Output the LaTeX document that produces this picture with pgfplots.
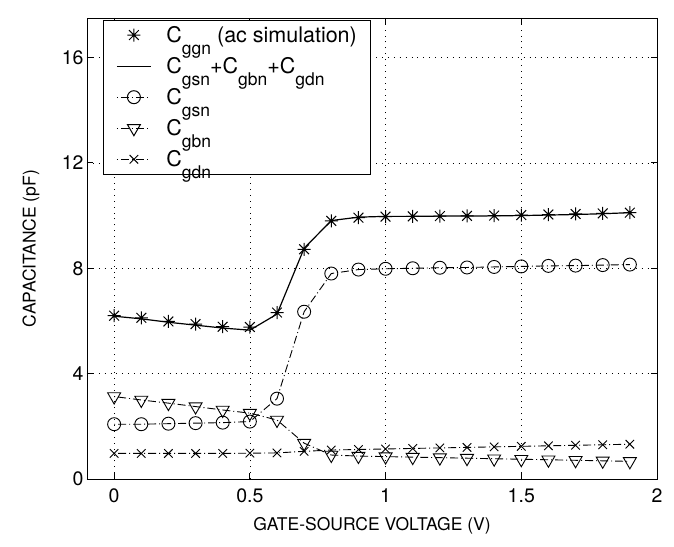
\documentclass[border=0pt]{standalone}
\usepackage{fontspec}
\setmainfont{TeX Gyre Heros}
\usepackage{pgfplots}
\pgfplotsset{compat=1.18}
\pgfdeclareplotmark{mstar}{%
  \pgfpathmoveto{\pgfqpoint{0pt}{\pgfplotmarksize}}\pgfpathlineto{\pgfqpoint{0pt}{-\pgfplotmarksize}}%
  \pgfpathmoveto{\pgfqpoint{\pgfplotmarksize}{0pt}}\pgfpathlineto{\pgfqpoint{-\pgfplotmarksize}{0pt}}%
  \pgfpathmoveto{\pgfqpoint{0.75\pgfplotmarksize}{0.75\pgfplotmarksize}}\pgfpathlineto{\pgfqpoint{-0.75\pgfplotmarksize}{-0.75\pgfplotmarksize}}%
  \pgfpathmoveto{\pgfqpoint{0.75\pgfplotmarksize}{-0.75\pgfplotmarksize}}\pgfpathlineto{\pgfqpoint{-0.75\pgfplotmarksize}{0.75\pgfplotmarksize}}%
  \pgfusepathqstroke}
\newcommand{\sub}[1]{\raisebox{-0.55em}{\fontsize{17.5}{19}\selectfont #1}}
\begin{document}
\begin{tikzpicture}
\begin{axis}[
  scale only axis,
  width=570pt, height=461pt,
  xmin=-0.1, xmax=2, ymin=0, ymax=17.5,
  xtick={0,0.5,1,1.5,2}, ytick={0,4,8,12,16},
  xticklabels={0,0.5,1,1.5,2},
  tick align=inside,
  major tick length=6pt,
  grid=major,
  major grid style={black, line width=0.7pt, dash pattern=on 0.9pt off 5pt},
  axis line style={line width=0.9pt},
  tick style={line width=0.9pt, black},
  tick label style={font=\fontsize{19.5}{21}\selectfont},
  xticklabel style={yshift=-6pt},
  label style={font=\fontsize{17.5}{20}\selectfont},
  /pgf/number format/assume math mode=true,
  xlabel={GATE-SOURCE VOLTAGE (V)},
  ylabel={CAPACITANCE (pF)},
  x label style={at={(axis description cs:0.5,0)}, anchor=north, yshift=-35pt},
  y label style={at={(axis description cs:0,0.5)}, anchor=south, rotate=0, yshift=44pt},
  legend cell align=left,
  legend style={at={(0.028,0.996)}, anchor=north west, draw=black, line width=0.9pt, fill=white,
    font=\fontsize{21.5}{23}\selectfont, row sep=11.5pt, column sep=14pt, inner xsep=13pt, inner ysep=5pt,
    nodes={inner sep=1pt}},
  legend image code/.code={\draw[mark repeat=2,mark phase=2,#1] plot coordinates {(0pt,0pt) (17pt,0pt) (34pt,0pt)};},
  legend image post style={line width=1pt},
]
\addplot[black, only marks, mark=mstar, mark size=6.5pt, line width=1pt] coordinates {
(0,6.20)(0.1,6.12)(0.2,5.98)(0.3,5.88)(0.4,5.78)(0.5,5.77)(0.6,6.32)(0.7,8.72)(0.8,9.80)(0.9,9.92)
(1.0,9.96)(1.1,9.97)(1.2,9.98)(1.3,9.99)(1.4,10.00)(1.5,10.02)(1.6,10.04)(1.7,10.06)(1.8,10.08)(1.9,10.11)};
\addlegendentry{C\sub{ggn} (ac simulation)}
\addplot[black, solid, no marks, line width=1.2pt] coordinates {
(0,6.18)(0.1,6.08)(0.2,5.95)(0.3,5.84)(0.4,5.73)(0.5,5.65)(0.6,6.26)(0.7,8.76)(0.8,9.81)(0.9,9.94)
(1.0,9.97)(1.1,9.97)(1.2,9.98)(1.3,9.98)(1.4,9.99)(1.5,10.00)(1.6,10.02)(1.7,10.04)(1.8,10.07)(1.9,10.11)};
\addlegendentry{C\sub{gsn}+C\sub{gbn}+C\sub{gdn}}
\addplot[black, dash pattern=on 1pt off 3pt on 8pt off 3pt, line width=0.9pt, mark=o, mark size=6.5pt, mark options={solid}] coordinates {
(0,2.08)(0.1,2.08)(0.2,2.10)(0.3,2.12)(0.4,2.14)(0.5,2.18)(0.6,3.05)(0.7,6.35)(0.8,7.80)(0.9,7.95)
(1.0,7.98)(1.1,8.00)(1.2,8.02)(1.3,8.03)(1.4,8.05)(1.5,8.07)(1.6,8.09)(1.7,8.10)(1.8,8.12)(1.9,8.14)};
\addlegendentry{C\sub{gsn}}
\addplot[black, dash pattern=on 1pt off 3pt on 8pt off 3pt, line width=0.9pt, mark=triangle, mark size=7.5pt, mark options={solid, rotate=180}] coordinates {
(0,3.13)(0.1,3.00)(0.2,2.88)(0.3,2.75)(0.4,2.62)(0.5,2.50)(0.6,2.24)(0.7,1.36)(0.8,0.91)(0.9,0.87)
(1.0,0.85)(1.1,0.83)(1.2,0.81)(1.3,0.79)(1.4,0.77)(1.5,0.75)(1.6,0.73)(1.7,0.71)(1.8,0.69)(1.9,0.67)};
\addlegendentry{C\sub{gbn}}
\addplot[black, dash pattern=on 1pt off 3pt on 8pt off 3pt, line width=0.9pt, mark=x, mark size=6pt, mark options={solid}] coordinates {
(0,0.97)(0.1,0.97)(0.2,0.97)(0.3,0.97)(0.4,0.97)(0.5,0.98)(0.6,0.99)(0.7,1.05)(0.8,1.10)(0.9,1.12)
(1.0,1.14)(1.1,1.16)(1.2,1.18)(1.3,1.20)(1.4,1.22)(1.5,1.24)(1.6,1.26)(1.7,1.28)(1.8,1.30)(1.9,1.32)};
\addlegendentry{C\sub{gdn}}
\end{axis}
\pgfresetboundingbox
\useasboundingbox (-87pt,-67pt) rectangle (587pt,479pt);
\end{tikzpicture}
\end{document}
